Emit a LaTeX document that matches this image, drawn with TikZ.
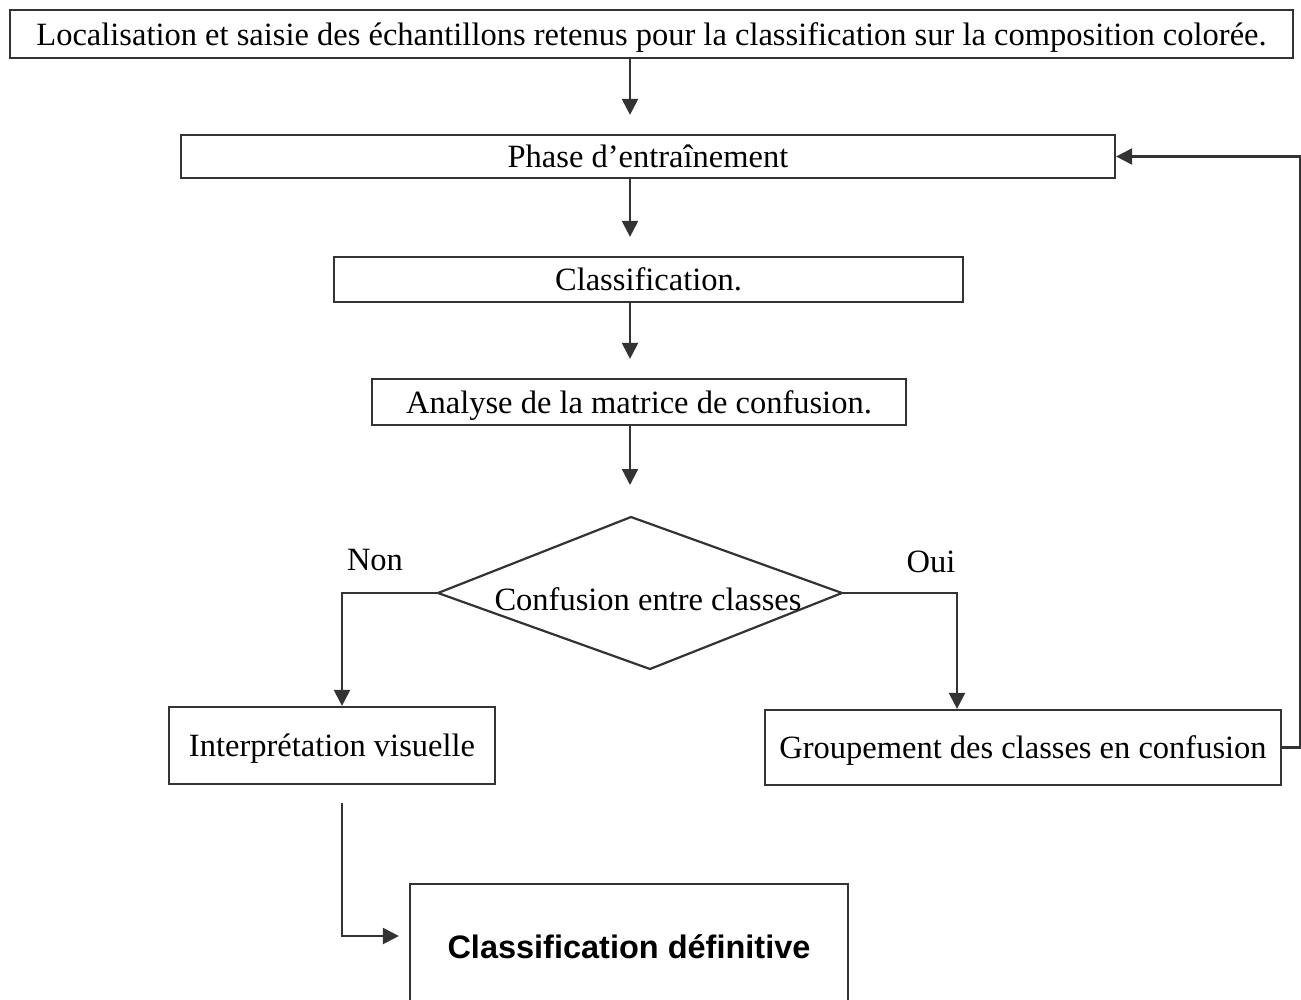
\documentclass[tikz,border=0pt]{standalone}
\usepackage{fontspec}
\setmainfont{Liberation Serif}
\newfontfamily\arialfont{Liberation Sans}
\usetikzlibrary{arrows.meta}

\begin{document}
\begin{tikzpicture}[x=1pt,y=1pt,yscale=-1,xscale=1,
    font=\fontsize{32.5}{36}\selectfont,
    box/.style={draw=black!80, line width=2.2pt, inner sep=0pt, text depth=0pt},
    link/.style={draw=black!80, line width=2.2pt},
    arr/.style={link, -{Triangle[length=16pt,width=16pt]}}]

\useasboundingbox (0,0) rectangle (1301,999);
\clip (0,0) rectangle (1301,999);

\node[box, minimum width=1283pt, minimum height=48pt] (saisie) at (651.5,34) {Localisation et saisie des échantillons retenus pour la classification sur la composition colorée.};
\node[box, minimum width=934pt, minimum height=43pt] (phase) at (648,156.5) {Phase d’entraînement};
\node[box, minimum width=629pt, minimum height=45pt] (classif) at (648.5,279.5) {Classification.};
\node[box, minimum width=534pt, minimum height=46pt] (analyse) at (639,402) {Analyse de la matrice de confusion.};

% losange de decision
\coordinate (dT) at (631,517);
\coordinate (dL) at (438,593);
\coordinate (dB) at (650,669);
\coordinate (dR) at (842,593);
\draw[link] (dT) -- (dR) -- (dB) -- (dL) -- cycle;
\node[text depth=0pt] (confusion) at (648,599) {Confusion entre classes};

\node[box, minimum width=326pt, minimum height=77pt] (interp) at (332,745.5) {Interprétation visuelle};
\node[box, minimum width=516pt, minimum height=75pt] (grp) at (1023,747.5) {Groupement des classes en confusion};
\node[box, minimum width=438pt, minimum height=126pt, font=\arialfont\bfseries\fontsize{32.5}{36}\selectfont] (final) at (629,947) {Classification définitive};

\node (non) at (375,560) {Non};
\node (oui) at (931,562) {Oui};

\coordinate (spine) at (630,0);
\coordinate (nonX) at (342,0);
\coordinate (ouiX) at (957,0);
\coordinate (back) at (1300,0);
\coordinate (finY) at (0,936);

\draw[arr, shorten >=19pt] (saisie.south -| spine) -- (phase.north -| spine);
\draw[arr, shorten >=19pt] (phase.south -| spine) -- (classif.north -| spine);
\draw[arr, shorten >=19pt] (classif.south -| spine) -- (analyse.north -| spine);
\draw[arr, shorten >=32pt] (analyse.south -| spine) -- (dT -| spine);

\draw[arr] (dL) -| (interp.north -| nonX);
\draw[arr] (dR) -| (grp.north -| ouiX);
\draw[arr] (grp.east) -- (grp.east -| back) |- (phase.east);
\draw[arr, shorten <=18pt, shorten >=10pt] (interp.south -| nonX) |- (final.west |- finY);

\end{tikzpicture}
\end{document}
